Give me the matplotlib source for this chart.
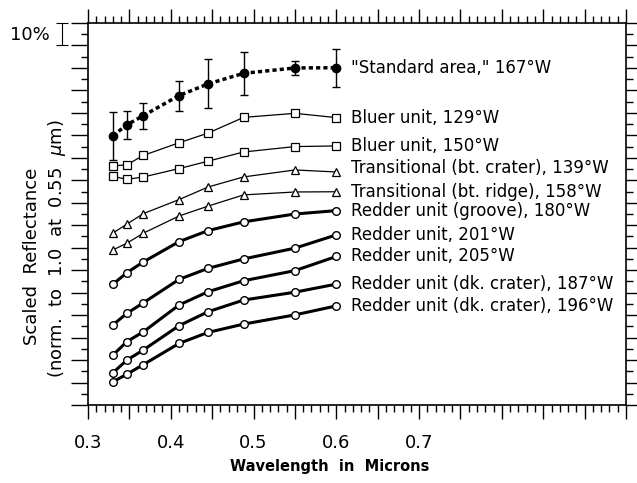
import matplotlib
matplotlib.use("Agg")
import matplotlib.pyplot as plt
from matplotlib.ticker import MultipleLocator, NullFormatter

# wavelengths (microns)
wavelength = [0.33, 0.347, 0.367, 0.41, 0.445, 0.488, 0.55, 0.60]

# scaled reflectance, offset for display (1 major tick = 10%)
standard = [1.198, 1.247, 1.288, 1.377, 1.429, 1.476, 1.500, 1.501]
standard_err = [0.107, 0.062, 0.058, 0.067, 0.109, 0.096, 0.031, 0.085]
bluer_129 = [1.064, 1.069, 1.111, 1.167, 1.210, 1.280, 1.298, 1.279]
bluer_150 = [1.018, 1.004, 1.015, 1.052, 1.085, 1.126, 1.150, 1.153]
trans_crater = [0.765, 0.805, 0.852, 0.914, 0.970, 1.015, 1.046, 1.037]
trans_ridge = [0.690, 0.720, 0.765, 0.841, 0.885, 0.935, 0.948, 0.949]
redder_groove = [0.537, 0.589, 0.637, 0.727, 0.776, 0.815, 0.850, 0.865]
redder_201 = [0.356, 0.408, 0.455, 0.559, 0.608, 0.650, 0.698, 0.757]
redder_205 = [0.222, 0.282, 0.326, 0.445, 0.504, 0.553, 0.598, 0.661]
redder_187 = [0.143, 0.200, 0.245, 0.353, 0.415, 0.467, 0.502, 0.538]
redder_196 = [0.103, 0.137, 0.180, 0.274, 0.323, 0.360, 0.401, 0.441]

labels = ['"Standard area," 167\u00b0W',
          "Bluer unit, 129\u00b0W",
          "Bluer unit, 150\u00b0W",
          "Transitional (bt. crater), 139\u00b0W",
          "Transitional (bt. ridge), 158\u00b0W",
          "Redder unit (groove), 180\u00b0W",
          "Redder unit, 201\u00b0W",
          "Redder unit, 205\u00b0W",
          "Redder unit (dk. crater), 187\u00b0W",
          "Redder unit (dk. crater), 196\u00b0W"]

xtick_values = [0.3, 0.4, 0.5, 0.6, 0.7]
xtick_labels = ["0.3", "0.4", "0.5", "0.6", "0.7"]

plt.rcParams["font.family"] = "DejaVu Sans"

fig = plt.figure(figsize=(6.37, 4.83), dpi=100)
ax = fig.add_axes([88 / 637, 1 - 405 / 483, 538 / 637, 382 / 483])

# standard area with error bars
ax.errorbar(wavelength, standard, yerr=standard_err, fmt="o", color="black",
            ms=6, elinewidth=1, capsize=3, capthick=1, zorder=4)
ax.plot(wavelength, standard, color="black", lw=2.5, ls=(0, (1.2, 0.9)), zorder=3)

thin = [(bluer_129, "s"), (bluer_150, "s"), (trans_crater, "^"), (trans_ridge, "^")]
for vals, m in thin:
    ax.plot(wavelength, vals, color="black", lw=0.9, marker=m, ms=5.5,
            mfc="white", mec="black", mew=0.9)

thick = [redder_groove, redder_201, redder_205, redder_187, redder_196]
for vals in thick:
    ax.plot(wavelength, vals, color="black", lw=2.2, marker="o", ms=5.5,
            mfc="white", mec="black", mew=1.0)

# series labels to the right of the last point
series = [standard, bluer_129, bluer_150, trans_crater, trans_ridge] + thick
for vals, lab in zip(series, labels):
    dy = 0.018 if vals is trans_crater else 0.0
    ax.text(0.618, vals[-1] + dy, lab, fontsize=12, va="center", ha="left")

# 10% scale bar
ax.errorbar([0.2686], [1.65], yerr=[0.05], fmt="none", color="black",
            elinewidth=0.8, capsize=4, capthick=0.8, clip_on=False)
ax.text(0.254, 1.645, "10%", fontsize=13, ha="right", va="center")

ax.set_xlim(0.3, 0.95)
ax.set_ylim(0, 1.7)

ax.xaxis.set_major_locator(MultipleLocator(0.05))
ax.xaxis.set_minor_locator(MultipleLocator(0.01))
ax.xaxis.set_major_formatter(NullFormatter())
ax.yaxis.set_major_locator(MultipleLocator(0.1))
ax.yaxis.set_minor_locator(MultipleLocator(0.05))
ax.yaxis.set_major_formatter(NullFormatter())
ax.tick_params(which="both", direction="out", top=True, right=True, width=1)
ax.tick_params(which="major", length=10)
ax.tick_params(which="minor", length=5)
ax.tick_params(axis="y", which="major", length=12)
for s in ax.spines.values():
    s.set_linewidth(1.2)

for v, lab in zip(xtick_values, xtick_labels):
    ax.text(v, -0.169, lab, fontsize=13, ha="center", va="center", clip_on=False)

fig.text(330 / 637, 1 - 467 / 483, "Wavelength  in  Microns", fontsize=10.5,
         fontweight="bold", ha="center", va="center")
fig.text(32 / 637, 1 - 256 / 483, "Scaled  Reflectance", rotation=90,
         fontsize=13, ha="center", va="center")
fig.text(57 / 637, 1 - 249 / 483, r"(norm.  to  1.0  at  0.55  $\mu$m)", rotation=90,
         fontsize=13, ha="center", va="center")

fig.savefig("out.png", dpi=100)
